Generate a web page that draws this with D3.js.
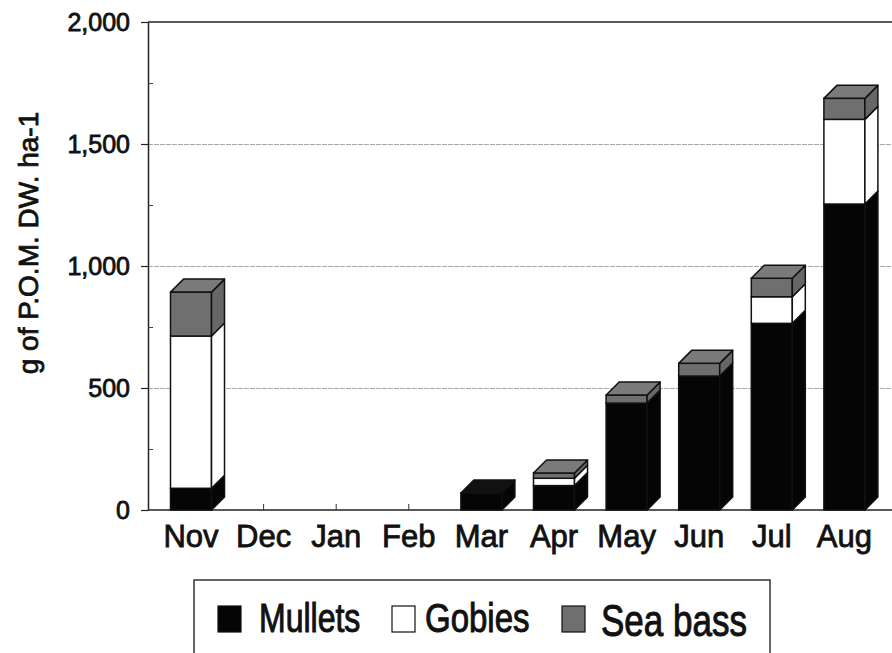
<!DOCTYPE html>
<html>
<head>
<meta charset="utf-8">
<script src="https://cdn.jsdelivr.net/npm/d3@7"></script>
<style>
  body { margin: 0; background: #fff; }
  svg { display: block; }
  text { font-family: "Liberation Sans", Arial, sans-serif; fill: #111; stroke: #111; stroke-width: 0.8px; }
</style>
</head>
<body>
<div id="chart"></div>
<script>
// data
var months = ["Nov", "Dec", "Jan", "Feb", "Mar", "Apr", "May", "Jun", "Jul", "Aug"];
var mullets = [89, 0, 0, 0, 70, 100, 438, 549, 765, 1254];
var gobies = [624, 0, 0, 0, 0, 30, 0, 0, 109, 347];
var seaBass = [180, 0, 0, 0, 0, 22, 33, 52, 76, 86];
var seriesNames = ["Mullets", "Gobies", "Sea bass"];
var yTicks = [0, 500, 1000, 1500, 2000];
var yMinorTicks = [250, 750, 1250, 1750];

var W = 892, H = 653;
var plot = { left: 148, top: 22, right: 900, bottom: 510 };
var depth = 13, barW = 41;

var colors = { "Mullets": "#050505", "Gobies": "#ffffff", "Sea bass": "#6f6f6f" };
var sideColors = { "Mullets": "#050505", "Gobies": "#ffffff", "Sea bass": "#666" };
var topColors = { "Mullets": "#111", "Gobies": "#ffffff", "Sea bass": "#7a7a7a" };

var svg = d3.select("#chart").append("svg")
    .attr("width", W)
    .attr("height", H);

// build rows for the stack
var rows = months.map(function (m, i) {
    return { month: m, "Mullets": mullets[i], "Gobies": gobies[i], "Sea bass": seaBass[i] };
});
var stacked = d3.stack().keys(seriesNames)(rows);

var x = d3.scaleBand()
    .domain(months)
    .range([154.7, 154.7 + 72.6 * months.length])
    .padding(0);

var y = d3.scaleLinear()
    .domain([0, 2000])
    .range([plot.bottom, plot.top]);

// grid lines
svg.append("g")
    .attr("transform", "translate(" + plot.left + ",0)")
    .call(d3.axisLeft(y).tickValues([500, 1000, 1500]).tickSize(-(plot.right - plot.left)).tickFormat(""))
    .call(function (g) { g.select(".domain").remove(); })
    .selectAll("line")
    .attr("stroke", "#a8a8a8")
    .attr("stroke-width", 1)
    .attr("stroke-dasharray", "5,1");

// top frame line
svg.append("line")
    .attr("x1", plot.left).attr("x2", plot.right)
    .attr("y1", plot.top).attr("y2", plot.top)
    .attr("stroke", "#222").attr("stroke-width", 1.5);

// y axis
var yAxis = svg.append("g")
    .attr("transform", "translate(" + plot.left + ",0)")
    .call(d3.axisLeft(y).tickValues(yTicks).tickSize(7).tickSizeOuter(0).tickPadding(11)
        .tickFormat(d3.format(",")));
yAxis.select(".domain").attr("stroke", "#222").attr("stroke-width", 1.5);
yAxis.selectAll("line").attr("stroke", "#222").attr("stroke-width", 1.2);
yAxis.selectAll("text").style("font-size", "25px").attr("fill", "#111");

// minor ticks inside
svg.append("g")
    .attr("transform", "translate(" + plot.left + ",0)")
    .call(d3.axisLeft(y).tickValues(yMinorTicks).tickSize(-5).tickFormat(""))
    .call(function (g) { g.select(".domain").remove(); })
    .selectAll("line").attr("stroke", "#444");

// x axis
var xAxis = svg.append("g")
    .attr("transform", "translate(0," + plot.bottom + ")")
    .call(d3.axisBottom(x).tickSize(-6).tickSizeOuter(0).tickPadding(15));
xAxis.select(".domain")
    .attr("d", "M" + plot.left + ",0H" + plot.right)
    .attr("stroke", "#222").attr("stroke-width", 1.5);
xAxis.selectAll("line").attr("stroke", "#333");
xAxis.selectAll("text").style("font-size", "31px").attr("fill", "#111");

// 3d stacked bars
var bars = svg.append("g");
months.forEach(function (m, i) {
    var cx = x(m) + x.bandwidth() / 2;
    var x0 = cx - barW / 2, x1 = cx + barW / 2;
    var segs = stacked.map(function (s) {
        return { key: s.key, lo: s[i][0], hi: s[i][1] };
    }).filter(function (d) { return d.hi - d.lo > 0; });
    if (!segs.length) return;
    var g = bars.append("g");
    segs.forEach(function (d) {
        var yt = y(d.hi), yb = y(d.lo);
        // front face
        g.append("rect")
            .attr("x", x0).attr("y", yt)
            .attr("width", barW).attr("height", yb - yt)
            .attr("fill", colors[d.key])
            .attr("stroke", "#111").attr("stroke-width", 1.5);
        // side face
        g.append("path")
            .attr("d", "M" + x1 + "," + yb + "L" + (x1 + depth) + "," + (yb - depth) +
                "L" + (x1 + depth) + "," + (yt - depth) + "L" + x1 + "," + yt + "Z")
            .attr("fill", sideColors[d.key])
            .attr("stroke", "#111").attr("stroke-width", 1.5)
            .attr("stroke-linejoin", "round");
    });
    var top = segs[segs.length - 1];
    var yt = y(top.hi);
    g.append("path")
        .attr("d", "M" + x0 + "," + yt + "L" + (x0 + depth) + "," + (yt - depth) +
            "L" + (x1 + depth) + "," + (yt - depth) + "L" + x1 + "," + yt + "Z")
        .attr("fill", topColors[top.key])
        .attr("stroke", "#111").attr("stroke-width", 1.5)
        .attr("stroke-linejoin", "round");
});

// y axis title
svg.append("text")
    .attr("transform", "translate(38,243) rotate(-90)")
    .attr("text-anchor", "middle")
    .style("font-size", "28px")
    .text("g of P.O.M. DW. ha-1");

// legend
var legend = svg.append("g");
legend.append("rect")
    .attr("x", 194).attr("y", 580)
    .attr("width", 576).attr("height", 110)
    .attr("fill", "none")
    .attr("stroke", "#333").attr("stroke-width", 1.5);

var legendItems = [
    { name: "Mullets", sx: 218, tx: 259, size: 32 },
    { name: "Gobies", sx: 392, tx: 425, size: 33 },
    { name: "Sea bass", sx: 562, tx: 601, size: 35 }
];
legendItems.forEach(function (d) {
    legend.append("rect")
        .attr("x", d.sx).attr("y", 606)
        .attr("width", 23).attr("height", 26)
        .attr("fill", colors[d.name])
        .attr("stroke", "#111").attr("stroke-width", 1.2);
    legend.append("text")
        .attr("transform", "translate(" + d.tx + "," + (d.name === "Sea bass" ? 636 : 632) + ") scale(1,1.25)")
        .style("font-size", d.size + "px")
        .text(d.name);
});
</script>
</body>
</html>
